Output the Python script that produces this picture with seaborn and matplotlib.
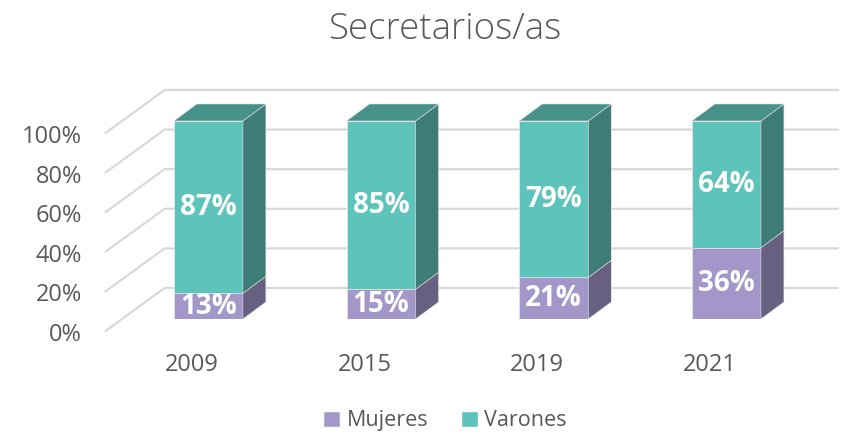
import matplotlib
matplotlib.use("Agg")
import matplotlib.pyplot as plt
import matplotlib.transforms as mtransforms
from matplotlib.patches import Polygon, Patch
import pandas as pd
import seaborn as sns

# data
years = ["2009", "2015", "2019", "2021"]
mujeres = [13, 15, 21, 36]
varones = [87, 85, 79, 64]
y_ticks = [0, 20, 40, 60, 80, 100]

sns.set_style("white")
plt.rcParams["font.family"] = ["Open Sans", "DejaVu Sans"]

df = pd.DataFrame({"year": years, "Mujeres": mujeres, "Varones": varones})
df["total"] = df["Mujeres"] + df["Varones"]

teal, teal_side, teal_top = "#5DC3BB", "#3E7C77", "#46918A"
purple, purple_side = "#A397C9", "#676080"
grid_c, text_c = "#D9D9D9", "#595959"

fig = plt.figure(figsize=(8.41, 4.33), dpi=100)
ax = fig.add_axes([0.1451, 0.2633, 0.8213, 0.4573])

# front faces of the stacked bars
sns.barplot(data=df, x="year", y="total", color=teal, width=0.4, saturation=1,
            edgecolor="#E6E6E6", linewidth=0.6, zorder=3, ax=ax)
sns.barplot(data=df, x="year", y="Mujeres", color=purple, width=0.4, saturation=1,
            edgecolor="#E6E6E6", linewidth=0.6, zorder=3, ax=ax)
ax.set_xlim(-0.5, 3.5)
ax.set_ylim(0, 100)

# pixel -> data conversion for the fake 3d depth
px_x = 1 / 172.7
px_y = 100 / 198
ddx, ddy = 23 * px_x, 17 * px_y          # bar depth
fx, fy = -16.5 * px_x, -12 * px_y        # front plane of the floor
bx, by = 42.5 * px_x, 31 * px_y          # back wall

n = len(years)
for bar_tot, bar_m, m, v in zip(ax.patches[:n], ax.patches[n:2 * n], mujeres, varones):
    xl = bar_tot.get_x()
    xr = xl + bar_tot.get_width()
    top = m + v
    sides = [
        ([(xr, 0), (xr, m), (xr + ddx, m + ddy), (xr + ddx, ddy)], purple_side),
        ([(xr, m), (xr, top), (xr + ddx, top + ddy), (xr + ddx, m + ddy)], teal_side),
        ([(xl, top), (xr, top), (xr + ddx, top + ddy), (xl + ddx, top + ddy)], teal_top),
    ]
    for pts, c in sides:
        ax.add_patch(Polygon(pts, closed=True, facecolor=c, edgecolor="#E6E6E6",
                             linewidth=0.4, zorder=3, clip_on=False))
    xc = xl + bar_tot.get_width() / 2
    ax.text(xc, m / 2, f"{m}%", ha="center", va="center", color="white",
            fontsize=20, fontweight="bold", zorder=4)
    ax.text(xc, m + v / 2, f"{v}%", ha="center", va="center", color="white",
            fontsize=20, fontweight="bold", zorder=4)

# back wall grid + floor diagonals
for t in y_ticks:
    ax.plot([-0.5 + fx, -0.5 + bx, 3.646], [t + fy, t + by, t + by],
            color=grid_c, linewidth=1.6, zorder=1, clip_on=False)

ax.set_yticks(y_ticks)
ax.set_yticklabels([f"{t}%" for t in y_ticks])
ax.set_xlabel("")
ax.set_ylabel("")
ax.tick_params(axis="both", length=0, labelsize=17, labelcolor=text_c)
ax.tick_params(axis="y", pad=17)
ax.tick_params(axis="x", pad=15)
sns.despine(ax=ax, left=True, bottom=True)

shift = mtransforms.ScaledTranslation(-16.5 / 100, -13 / 100, fig.dpi_scale_trans)
for lab in ax.get_xticklabels() + ax.get_yticklabels():
    lab.set_transform(lab.get_transform() + shift)

fig.text(0.529, 0.931, "Secretarios/as", ha="center", va="center",
         fontsize=26.5, color=text_c, fontweight="light")

handles = [Patch(facecolor=purple, label="Mujeres"), Patch(facecolor=teal, label="Varones")]
fig.legend(handles=handles, loc="center", bbox_to_anchor=(0.529, 0.028), ncol=2,
           frameon=False, fontsize=15.5, labelcolor=text_c, handlelength=0.8,
           handleheight=0.8, handletextpad=0.3, columnspacing=1.5)

fig.savefig("out.png", dpi=100)
